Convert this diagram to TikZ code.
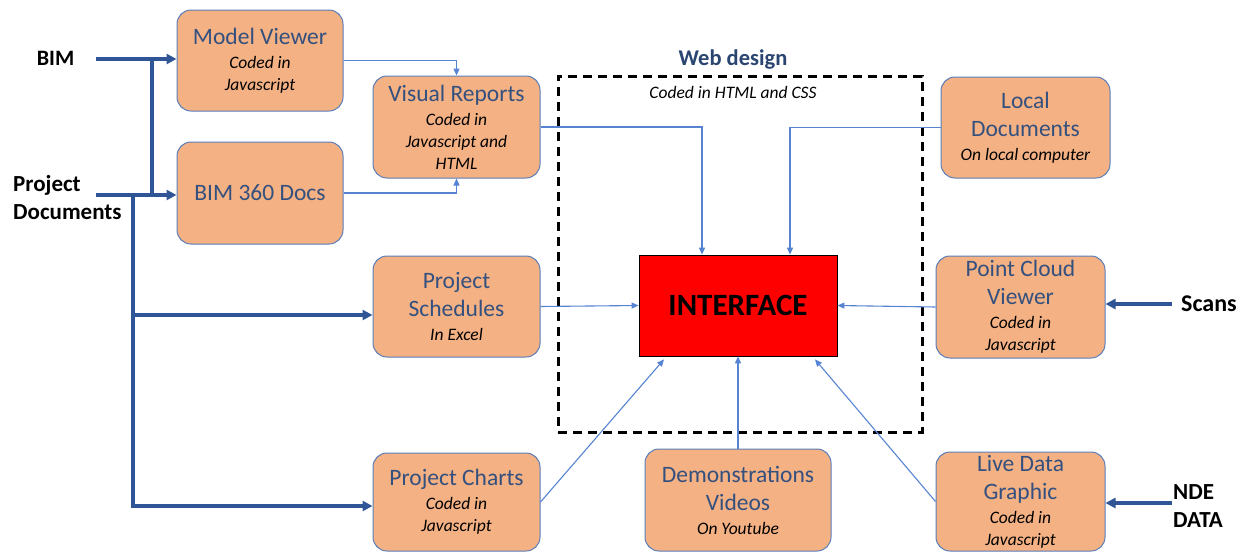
\documentclass[tikz,border=0pt]{standalone}
\usepackage{fontspec}
\setmainfont{Carlito}
\usetikzlibrary{arrows.meta}
\definecolor{boxfill}{HTML}{F4B183}
\definecolor{boxline}{HTML}{5A7DBA}
\definecolor{ttlblue}{HTML}{33507F}
\definecolor{thinblue}{HTML}{5683D2}
\definecolor{thickblue}{HTML}{2F5597}
\definecolor{hdrblue}{HTML}{2B4571}
\newcommand\ttl[1]{{\fontsize{23.5}{28}\selectfont\color{ttlblue}#1}}
\newcommand\sbt[1]{{\fontsize{17.5}{22}\selectfont\itshape #1}}
\tikzset{
  box/.style={draw=boxline, line width=1pt, fill=boxfill, rounded corners=14pt,
    inner sep=0pt, align=center, font=\fontsize{17.5}{22}\selectfont},
  thinarr/.style={draw=thinblue, line width=1.1pt, -{Triangle[length=7pt,width=6pt]}},
  thkarr/.style={draw=thickblue, line width=3.3pt, -{Triangle[length=10pt,width=10pt]}},
  thkline/.style={draw=thickblue, line width=3.3pt},
  lbl/.style={font=\fontsize{23}{28}\selectfont\bfseries, inner sep=0pt},
}
\begin{document}
\begin{tikzpicture}[x=1pt,y=-1pt]
\useasboundingbox (0,0) rectangle (1245,552);

% web design frame
\node[draw=black, line width=3pt, dash pattern=on 9pt off 6pt, minimum width=364pt, minimum height=356pt, inner sep=0pt] (web) at (740,254) {};
\node[font=\fontsize{22.5}{26}\selectfont\bfseries, text=hdrblue, inner sep=0pt] (wd) at (733,60) {Web design};
\node[font=\fontsize{17.5}{22}\selectfont\itshape, inner sep=0pt] (wdsub) at (733,92) {Coded in HTML and CSS};

% boxes
\node[box, minimum width=166pt, minimum height=101pt] (mv) at (260,60.5) {\ttl{Model Viewer}\\[2pt]\sbt{Coded in}\\\sbt{Javascript}};
\node[box, minimum width=166pt, minimum height=102pt] (b360) at (260,193) {\ttl{BIM 360 Docs}};
\node[box, minimum width=167pt, minimum height=102pt] (vr) at (456.5,127) {\ttl{Visual Reports}\\[2pt]\sbt{Coded in}\\\sbt{Javascript and}\\\sbt{HTML}};
\node[box, minimum width=167pt, minimum height=101pt] (ps) at (456.5,306.5) {\ttl{Project}\\[6pt]\ttl{Schedules}\\[2pt]\sbt{In Excel}};
\node[box, minimum width=167pt, minimum height=98pt] (pch) at (456.5,502) {\ttl{Project Charts}\\[2pt]\sbt{Coded in}\\\sbt{Javascript}};
\node[box, minimum width=186pt, minimum height=102pt] (demo) at (738,500) {\ttl{Demonstrations}\\[6pt]\ttl{Videos}\\[2pt]\sbt{On Youtube}};
\node[box, minimum width=169pt, minimum height=101pt] (ld) at (1025.5,127.5) {\ttl{Local}\\[6pt]\ttl{Documents}\\[2pt]\sbt{On local computer}};
\node[box, minimum width=169pt, minimum height=102pt] (pcv) at (1020.5,307) {\ttl{Point Cloud}\\[6pt]\ttl{Viewer}\\[2pt]\sbt{Coded in}\\\sbt{Javascript}};
\node[box, minimum width=169pt, minimum height=99pt] (live) at (1020.5,501.5) {\ttl{Live Data}\\[6pt]\ttl{Graphic}\\[2pt]\sbt{Coded in}\\\sbt{Javascript}};

% interface
\node[draw=black, fill=red, line width=0.8pt, minimum width=198pt, minimum height=101pt, inner sep=0pt, font=\fontsize{31}{36}\selectfont\bfseries] (iface) at (738,305.5) {INTERFACE};

% outer labels
\node[lbl, font=\fontsize{22}{28}\selectfont\bfseries] (bim) at (55.5,58) {BIM};
\node[lbl, align=left, anchor=west] (pdoc) at (13,198) {Project\\Documents};
\node[lbl, font=\fontsize{24}{28}\selectfont\bfseries, anchor=west] (scans) at (1181,304) {Scans};
\node[lbl, align=left, anchor=west] (nde) at (1173,506) {NDE\\DATA};

% thick input arrows
\coordinate (bimst) at (96,59);
\coordinate (pdst) at (96,195);
\coordinate (ja) at (152,59);
\coordinate (jb) at (152,195);
\coordinate (jc) at (133,195);
\coordinate (jd) at (133,315);
\coordinate (je) at (133,506);
\draw[thkarr] (bimst) -- (bimst -| mv.west);
\draw[thkline] (ja) -- (jb);
\draw[thkarr] (pdst) -- (pdst -| b360.west);
\draw[thkarr] (jc) |- (je -| pch.west);
\draw[thkarr] (jd) -- (jd -| ps.west);
\coordinate (scst) at ([xshift=-9pt]scans.west);
\draw[thkarr] (scst) -- (scst -| pcv.east);
\coordinate (ndst) at ([xshift=-1pt,yshift=3pt]nde.west);
\draw[thkarr] (ndst) -- (ndst -| live.east);

% thin connectors
\draw[thinarr] (mv.east) -| (vr.north);
\draw[thinarr] (b360.east) -| (vr.south);
\draw[thinarr] (vr.east) -| ([xshift=-36pt]iface.north);
\draw[thinarr] (ld.west) -| ([xshift=52pt]iface.north);
\draw[thinarr] (ps.east) -- (iface.west);
\draw[thinarr] (pcv.west) -- (iface.east);
\draw[thinarr] (pch.east) -- ([xshift=-74pt,yshift=-3pt]iface.south);
\draw[thinarr] (demo.north) -- (iface.south);
\draw[thinarr] (live.west) -- ([xshift=77pt,yshift=-3pt]iface.south);
\end{tikzpicture}
\end{document}
